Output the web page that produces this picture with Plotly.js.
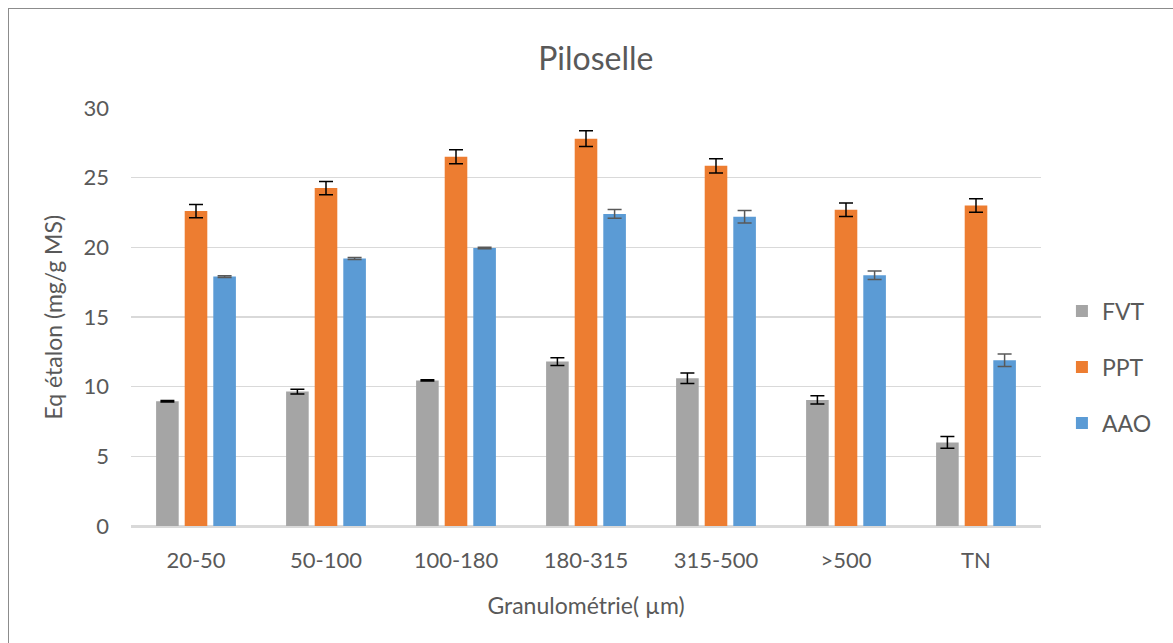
<!DOCTYPE html>
<html>
<head>
<meta charset="utf-8">
<script src="https://cdn.plot.ly/plotly-3.0.1.min.js"></script>
<style>
html,body{margin:0;padding:0;background:#fff;}
#wrap{position:relative;width:1173px;height:643px;overflow:hidden;}
#chart{position:absolute;left:0;top:0;width:1173px;height:643px;}
#frame{position:absolute;left:8px;top:8px;width:1200px;height:700px;border-left:1.5px solid #8c8c8c;border-top:1.5px solid #8c8c8c;pointer-events:none;}
</style>
</head>
<body>
<div id="wrap"><div id="chart"></div><div id="frame"></div></div>
<script>
const categories = ["20-50", "50-100", "100-180", "180-315", "315-500", ">500", "TN"];
const fvt = [8.95, 9.65, 10.45, 11.8, 10.6, 9.05, 6.0];
const fvtErr = [0.05, 0.17, 0.04, 0.28, 0.38, 0.29, 0.42];
const ppt = [22.6, 24.25, 26.5, 27.8, 25.85, 22.7, 23.0];
const pptErr = [0.48, 0.48, 0.51, 0.57, 0.51, 0.48, 0.48];
const aao = [17.9, 19.2, 19.95, 22.4, 22.2, 18.0, 11.9];
const aaoErr = [0.06, 0.07, 0.05, 0.31, 0.45, 0.31, 0.45];
const yTicks = [0, 5, 10, 15, 20, 25, 30];
const yTitle = "Eq étalon (mg/g MS)";

const font = "Lato, 'Open Sans', sans-serif";
const txt = "#595959";

function mk(name, y, err, color, errColor, grp) {
  return {
    type: "bar", name: name, x: categories, y: y,
    marker: {color: color},
    legendgroup: grp,
    error_y: {type: "data", array: err, visible: true, color: errColor, thickness: 1.5, width: 7},
    hoverinfo: "x+y+name"
  };
}

const data = [
  mk("FVT", fvt, fvtErr, "#A5A5A5", "#000000", "g1"),
  mk("PPT", ppt, pptErr, "#ED7D31", "#000000", "g2"),
  mk("AAO", aao, aaoErr, "#5B9BD5", "#595959", "g3")
];

const layout = {
  width: 1173, height: 643,
  margin: {l: 130.5, r: 131.7, t: 108.3, b: 117, pad: 0},
  paper_bgcolor: "#ffffff", plot_bgcolor: "#ffffff",
  barmode: "group", bargap: 0.34, bargroupgap: 0.21,
  title: {text: "Piloselle", font: {family: font, size: 32, color: txt}, x: 0.508, xanchor: "center", y: 0.908, yanchor: "middle"},
  font: {family: font, color: txt},
  xaxis: {
    showgrid: false, showline: true, linecolor: "#D9D9D9", linewidth: 1.5,
    ticks: "", ticklabelstandoff: 14, tickfont: {family: font, size: 22, color: txt},
    title: {text: "Granulométrie( µm)", font: {family: font, size: 23, color: txt}, standoff: 26}
  },
  yaxis: {
    range: [0, 30], tickvals: yTicks, ticktext: yTicks.map(String),
    showgrid: true, gridcolor: "#D9D9D9", gridwidth: 1.5,
    zeroline: true, zerolinecolor: "#D9D9D9", zerolinewidth: 1.5,
    showline: false, ticks: "", ticklabelstandoff: 21,
    tickfont: {family: font, size: 22, color: txt}
  },
  annotations: [{
    text: yTitle, textangle: -90, showarrow: false,
    xref: "paper", yref: "paper", x: -0.0862, y: 0.50, xanchor: "center", yanchor: "middle",
    font: {family: font, size: 23, color: txt}
  }],
  legend: {
    x: 1.023, xanchor: "left", y: 0.38, yanchor: "middle",
    font: {family: font, size: 23, color: txt},
    traceorder: "grouped", tracegroupgap: 23,
    bgcolor: "rgba(0,0,0,0)"
  },
  showlegend: true
};

Plotly.newPlot("chart", data, layout, {displayModeBar: false, staticPlot: true});
</script>
</body>
</html>
